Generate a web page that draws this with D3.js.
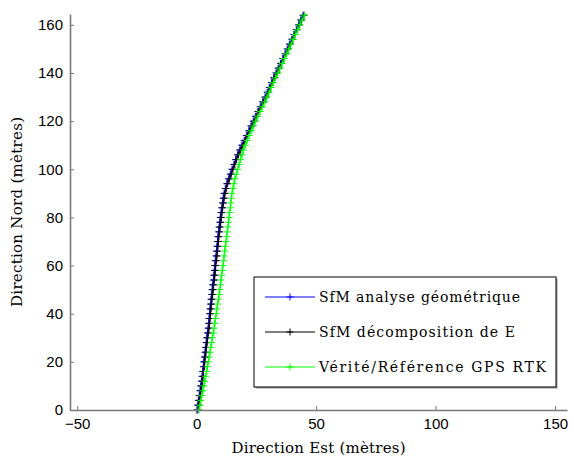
<!DOCTYPE html>
<html>
<head>
<meta charset="utf-8">
<script src="https://cdn.jsdelivr.net/npm/d3@7"></script>
<style>
  html, body { margin: 0; padding: 0; background: #fff; }
  svg { display: block; }
  .serif { font-family: "DejaVu Serif", "Liberation Serif", serif; }
  .sans { font-family: "Liberation Sans", Arial, Helvetica, sans-serif; }
</style>
</head>
<body>
<svg id="chart" width="574" height="458"></svg>
<script>
// ---------------- data ----------------
const seriesNames = ["SfM analyse géométrique", "SfM décomposition de E", "Vérité/Référence GPS RTK"];
const seriesColors = ["#0000ff", "#000000", "#00ff00"];

const northBlue = [0,2,4,6,8,10,12,14,16,18,20,22,24,26,28,30,32,34,36,38,40,42,44,46,48,50,52,54,56,58,60,62,64,66,68,70,72,74,76,78,80,82,84,86,88,90,92,94,96,98,100,102,104,106,108,110,112,114,116,118,120,122,124,126,128,130,132,134,136,138,140,142,144,146,148,150,152,154,156,158,160,162,164];
const eastBlue = [0.1,0.4,0.7,1.1,1.4,1.7,2.0,2.3,2.5,2.8,3.0,3.2,3.5,3.7,4.0,4.2,4.5,4.8,5.0,5.2,5.4,5.6,5.8,6.0,6.3,6.5,6.7,7.0,7.2,7.4,7.6,7.8,8.1,8.3,8.5,8.7,8.9,9.2,9.4,9.7,9.9,10.2,10.5,10.8,11.1,11.5,12.0,12.6,13.3,14.1,14.8,15.6,16.3,17.1,18.0,18.9,19.9,20.8,21.8,22.7,23.7,24.6,25.6,26.6,27.6,28.6,29.5,30.4,31.3,32.2,33.2,34.1,35.1,36.0,37.0,37.9,38.8,39.8,40.7,41.7,42.6,43.5,44.5];

const northBlack = [0,2,4,6,8,10,12,14,16,18,20,22,24,26,28,30,32,34,36,38,40,42,44,46,48,50,52,54,56,58,60,62,64,66,68,70,72,74,76,78,80,82,84,86,88,90,92,94,96,98,100,102,104,106,108,110,112,114,116,118,120,122,124,126,128,130,132,134,136,138,140,142,144,146,148,150,152,154,156,158,160,162,164];
const eastBlack = [0.5,0.8,1.1,1.5,1.8,2.1,2.4,2.7,2.9,3.2,3.4,3.6,3.9,4.1,4.4,4.6,4.9,5.2,5.4,5.6,5.8,6.0,6.2,6.4,6.7,6.9,7.1,7.4,7.6,7.8,8.0,8.2,8.5,8.7,8.9,9.1,9.3,9.6,9.8,10.1,10.3,10.6,10.9,11.2,11.5,11.9,12.4,13.0,13.7,14.5,15.2,16.0,16.7,17.5,18.4,19.3,20.3,21.2,22.2,23.1,24.1,25.0,26.0,27.0,28.0,29.0,29.9,30.8,31.7,32.6,33.6,34.5,35.5,36.4,37.4,38.3,39.2,40.2,41.1,42.1,43.0,43.9,44.9];

const northGreen = [0,2,4,6,8,10,12,14,16,18,20,22,24,26,28,30,32,34,36,38,40,42,44,46,48,50,52,54,56,58,60,62,64,66,68,70,72,74,76,78,80,82,84,86,88,90,92,94,96,98,100,102,104,106,108,110,112,114,116,118,120,122,124,126,128,130,132,134,136,138,140,142,144,146,148,150,152,154,156,158,160,162,164];
const eastGreen = [1.0,1.4,1.8,2.2,2.6,3.0,3.4,3.8,4.2,4.5,4.9,5.2,5.6,5.9,6.3,6.6,7.0,7.3,7.6,7.9,8.2,8.5,8.8,9.1,9.4,9.7,10.0,10.2,10.5,10.7,11.0,11.3,11.5,11.8,12.0,12.3,12.6,12.8,13.1,13.3,13.6,13.8,14.1,14.3,14.6,14.8,15.2,15.6,16.0,16.6,17.2,17.8,18.4,19.0,19.6,20.4,21.2,22.0,22.9,23.8,24.7,25.6,26.6,27.5,28.5,29.4,30.3,31.2,32.1,33.0,34.0,34.9,35.8,36.7,37.7,38.6,39.5,40.4,41.3,42.3,43.2,44.1,45.1];

const xTicks = [-50, 0, 50, 100, 150];
const xTickLabels = ["\u221250", "0", "50", "100", "150"];
const yTicks = [0, 20, 40, 60, 80, 100, 120, 140, 160];
const yTickLabels = ["0", "20", "40", "60", "80", "100", "120", "140", "160"];
const xDomain = [-53, 155];
const yDomain = [0, 164.5];
const xTitle = "Direction Est (mètres)";
const yTitle = "Direction Nord (mètres)";

// ---------------- drawing ----------------
const svg = d3.select("#chart");
const pLeft = 70, pRight = 567, pTop = 14, pBottom = 410;
const x = d3.scaleLinear().domain(xDomain).range([pLeft, pRight]);
const y = d3.scaleLinear().domain(yDomain).range([pBottom, pTop]);
const axisColor = "#7a7a7a";

const series = [
  {name: seriesNames[0], color: seriesColors[0], pts: northBlue.map((n, i) => [eastBlue[i], n])},
  {name: seriesNames[1], color: seriesColors[1], pts: northBlack.map((n, i) => [eastBlack[i], n])},
  {name: seriesNames[2], color: seriesColors[2], pts: northGreen.map((n, i) => [eastGreen[i], n])}
];

const line = d3.line().x(d => x(d[0])).y(d => y(d[1]));
const m = 3.5; // half marker size
function plus(g, cx, cy, color) {
  g.append("path")
    .attr("d", `M${cx - m},${cy}H${cx + m}M${cx},${cy - m}V${cy + m}`)
    .attr("stroke", color).attr("stroke-width", 1).attr("fill", "none");
}

const plot = svg.append("g");
series.forEach(s => {
  const g = plot.append("g");
  g.append("path").datum(s.pts).attr("d", line)
    .attr("fill", "none").attr("stroke", s.color).attr("stroke-width", 1);
  s.pts.forEach(p => plus(g, x(p[0]), y(p[1]), s.color));
});

// axes
const xAxis = d3.axisBottom(x).tickValues(xTicks)
  .tickFormat((d, i) => xTickLabels[i]).tickSizeInner(-4).tickSizeOuter(0).tickPadding(8);
const yAxis = d3.axisLeft(y).tickValues(yTicks)
  .tickFormat((d, i) => yTickLabels[i]).tickSizeInner(-4).tickSizeOuter(0).tickPadding(7);

const gx = svg.append("g").attr("transform", `translate(0,${pBottom})`).call(xAxis);
const gy = svg.append("g").attr("transform", `translate(${pLeft},0)`).call(yAxis);
[gx, gy].forEach(g => {
  g.attr("font-family", null).attr("font-size", null);
  g.select(".domain").attr("stroke", axisColor).attr("stroke-width", 1.6);
  g.selectAll(".tick line").attr("stroke", axisColor).attr("stroke-width", 1);
  g.selectAll(".tick text").attr("fill", "#000").attr("class", "sans").style("font-size", "15px");
});
gx.selectAll(".tick text").attr("dy", "0.71em");

// axis titles
svg.append("text").attr("class", "serif").attr("x", (pLeft + pRight) / 2).attr("y", 453)
  .attr("text-anchor", "middle").style("font-size", "15px")
  .attr("textLength", 174).attr("lengthAdjust", "spacing")
  .text(xTitle);
svg.append("text").attr("class", "serif").attr("transform", `translate(22,${(pTop + pBottom) / 2}) rotate(-90)`)
  .attr("text-anchor", "middle").style("font-size", "15px")
  .attr("textLength", 190).attr("lengthAdjust", "spacing")
  .text(yTitle);

// legend
const lg = svg.append("g");
const lx = 254, ly = 277, lw = 302, lh = 110;
lg.append("rect").attr("x", lx + 1.5).attr("y", ly + 1.5).attr("width", lw).attr("height", lh)
  .attr("fill", "#999");
lg.append("rect").attr("x", lx).attr("y", ly).attr("width", lw).attr("height", lh)
  .attr("fill", "#fff").attr("stroke", "#000").attr("stroke-width", 1);
const rowY = [297, 332, 367];
const textW = [201, 196, 227];
series.forEach((s, i) => {
  const cy = rowY[i];
  lg.append("line").attr("x1", 265).attr("x2", 315).attr("y1", cy).attr("y2", cy)
    .attr("stroke", s.color).attr("stroke-width", 1);
  plus(lg, 290, cy, s.color);
  lg.append("text").attr("class", "serif").attr("x", 319).attr("y", cy + 5)
    .style("font-size", "14px")
    .attr("textLength", textW[i]).attr("lengthAdjust", "spacing")
    .text(s.name);
});
</script>
</body>
</html>
